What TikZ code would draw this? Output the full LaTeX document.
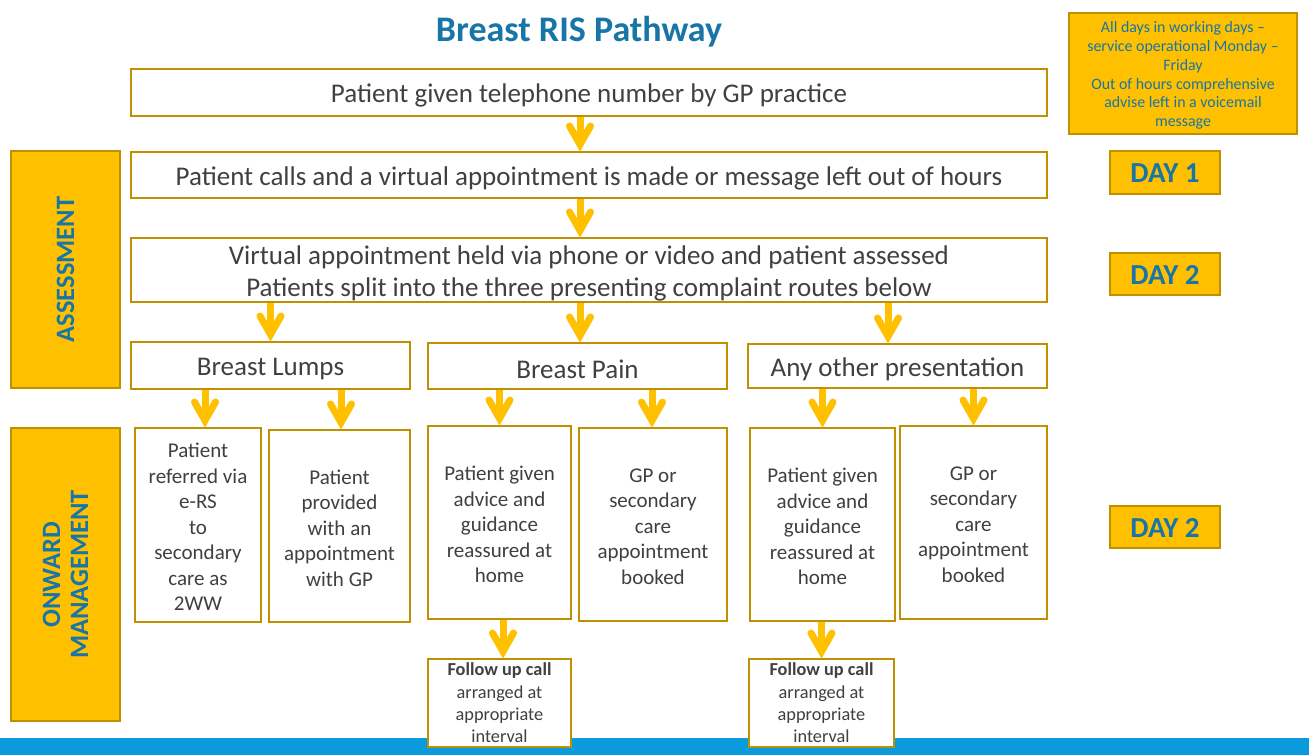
\documentclass[tikz,border=0pt]{standalone}
\usepackage{fontspec}
\setmainfont{Carlito}
\usetikzlibrary{calc}

\definecolor{gold}{RGB}{191,144,0}
\definecolor{amber}{RGB}{255,192,0}
\definecolor{titleblue}{RGB}{23,117,168}
\definecolor{bodygray}{RGB}{64,64,64}
\definecolor{barblue}{RGB}{12,154,222}

\tikzset{
  % frames
  whitebox/.style={draw=gold, line width=2pt, fill=white, inner sep=0pt, outer sep=0pt},
  amberbox/.style={draw=gold, line width=2pt, fill=amber, inner sep=0pt, outer sep=0pt},
  thinamber/.style={amberbox, line width=1.5pt},
  % texts
  basetext/.style={align=center, inner sep=0pt},
  bigtext/.style={basetext, text=bodygray, font=\fontsize{27}{32}\selectfont, yshift=-3.3pt},
  smalltext/.style={basetext, text=bodygray, font=\fontsize{21}{25.5}\selectfont, yshift=-2pt},
  notetext/.style={basetext, text=bodygray, font=\fontsize{18.3}{22.3}\selectfont},
  bluenote/.style={basetext, text=titleblue, font=\fontsize{15.9}{18.7}\selectfont, yshift=-2pt},
  daytext/.style={basetext, text=titleblue, font=\bfseries\fontsize{29}{32}\selectfont, yshift=-1pt},
  sidelabel/.style={basetext, text=titleblue, font=\bfseries\fontsize{26.5}{28}\selectfont,
    rotate=90},
  % arrows
  flowstem/.style={draw=amber, line width=7pt},
  flowhead/.style={draw=amber, line width=7pt, line cap=round, line join=miter},
}

% framed box from its corners with its text:
% name, x1, y1, x2, y2, frame style, text style, text
\newcommand\placebox[8]{%
  \node[#6, minimum width={(#4-#2)*1pt}, minimum height={(#5-#3)*1pt}]
    (#1) at ({(#2+#4)/2},{(#3+#5)/2}) {};
  \node[#7] (#1-text) at (#1.center) {#8};}

% chevron arrow from one box down to the next: [x shift]{from}{to}
\newcommand\flow[3][0]{%
  \draw[flowstem] ($(#2.south -| #3.north)+(#1,1)$) -- ($(#3.north)+(#1,-7.5)$);
  \draw[flowhead] ($(#3.north)+(#1-10.5,-26)$) -- ($(#3.north)+(#1,-7.5)$)
    -- ($(#3.north)+(#1+10.5,-26)$);}

\begin{document}
\begin{tikzpicture}[x=1pt, y=-1pt]
\useasboundingbox (0,0) rectangle (1309,755);
\fill[white] (0,0) rectangle (1309,755);

% bottom band
\fill[barblue] (0,738) rectangle (1309,755);

% heading
\node[font=\bfseries\fontsize{36}{40}\selectfont, text=titleblue] (title) at (579,31.5) {Breast RIS Pathway};

% side bars
\placebox{assess}{11}{151}{120}{388}{amberbox}{sidelabel}{ASSESSMENT}
\placebox{onward}{11}{428}{120}{721}{amberbox}{sidelabel}{ONWARD\\MANAGEMENT}

% notes and day markers
\placebox{note}{1069}{13}{1297}{134}{thinamber}{bluenote}{All days in working days --\\service operational Monday --\\Friday\\Out of hours comprehensive\\advise left in a voicemail\\message}
\placebox{day1}{1110}{151}{1220}{194}{thinamber}{daytext}{DAY 1}
\placebox{day2a}{1110}{253}{1220}{295}{thinamber}{daytext}{DAY 2}
\placebox{day2b}{1110}{506}{1220}{548}{thinamber}{daytext}{DAY 2}

% main steps
\placebox{b1}{131}{69}{1047}{116}{whitebox}{bigtext}{Patient given telephone number by GP practice}
\placebox{b2}{131}{152}{1047}{198}{whitebox}{bigtext}{Patient calls and a virtual appointment is made or message left out of hours}
\placebox{b3}{131}{238}{1047}{302}{whitebox}{bigtext}{Virtual appointment held via phone or video and patient assessed\\Patients split into the three presenting complaint routes below}

% complaint routes
\placebox{lumps}{131}{342}{410}{389}{whitebox}{bigtext}{Breast Lumps}
\placebox{pain}{428}{343}{727}{389}{whitebox}{bigtext}{Breast Pain}
\placebox{other}{748}{344}{1047}{388}{whitebox}{bigtext}{Any other presentation}

% outcomes
\placebox{ers}{135}{428}{261}{622}{whitebox}{smalltext}{Patient\\referred via\\e-RS\\to\\secondary\\care as\\2WW}
\placebox{gpappt}{269}{430}{410}{622}{whitebox}{smalltext}{Patient\\provided\\with an\\appointment\\with GP}
\placebox{adviceA}{428}{426}{571}{619}{whitebox}{smalltext}{Patient given\\advice and\\guidance\\reassured at\\home}
\placebox{bookedA}{579}{428}{727}{621}{whitebox}{smalltext}{GP or\\secondary\\care\\appointment\\booked}
\placebox{adviceB}{750}{428}{895}{621}{whitebox}{smalltext}{Patient given\\advice and\\guidance\\reassured at\\home}
\placebox{bookedB}{900}{426}{1047}{619}{whitebox}{smalltext}{GP or\\secondary\\care\\appointment\\booked}

% follow-up calls
\placebox{followA}{428}{659}{571}{747}{whitebox}{notetext}{\textbf{Follow up call}\\arranged at\\appropriate\\interval}
\placebox{followB}{749}{659}{894}{747}{whitebox}{notetext}{\textbf{Follow up call}\\arranged at\\appropriate\\interval}

% arrows
\flow[-9]{b1}{b2}
\flow[-9]{b2}{b3}
\flow{b3}{lumps}
\flow[2.5]{b3}{pain}
\flow[-9.5]{b3}{other}
\flow[7]{lumps}{ers}
\flow[1.5]{lumps}{gpappt}
\flow{pain}{adviceA}
\flow[-1]{pain}{bookedA}
\flow{other}{adviceB}
\flow{other}{bookedB}
\flow[3.5]{adviceA}{followA}
\flow{adviceB}{followB}
\end{tikzpicture}
\end{document}
